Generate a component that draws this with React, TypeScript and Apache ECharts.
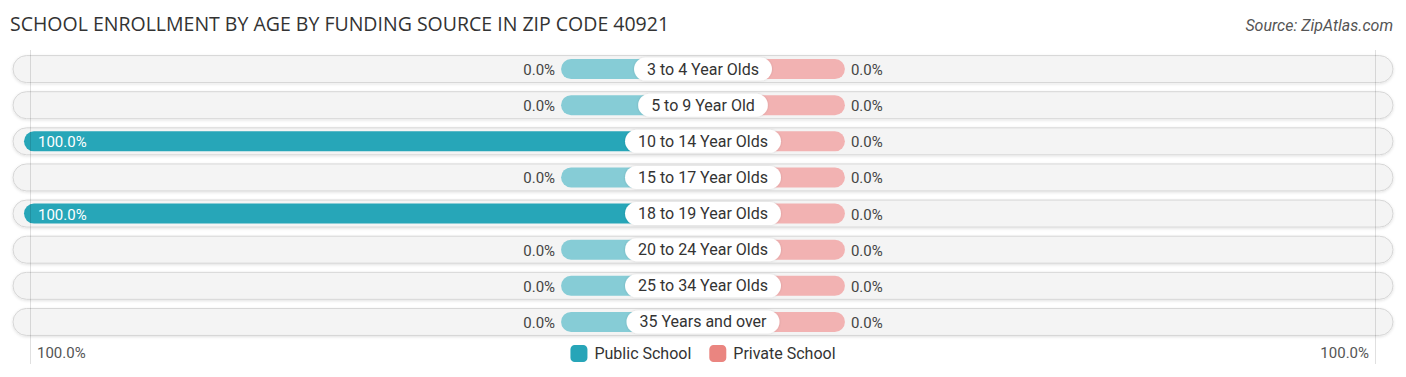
import React, { useEffect, useRef } from "react";
import * as echarts from "echarts";

const categories = [
  "3 to 4 Year Olds",
  "5 to 9 Year Old",
  "10 to 14 Year Olds",
  "15 to 17 Year Olds",
  "18 to 19 Year Olds",
  "20 to 24 Year Olds",
  "25 to 34 Year Olds",
  "35 Years and over",
];
const publicSchool = [0, 0, 100, 0, 100, 0, 0, 0];
const privateSchool = [0, 0, 0, 0, 0, 0, 0, 0];
const axisEndLabels = ["100.0%", "100.0%"];
const seriesNames = ["Public School", "Private School"];

const STUB = 20.9; // minimum visible bar length for zero values (%)
const FONT = "Roboto, 'Noto Sans', sans-serif";

export default function App() {
  const ref = useRef<HTMLDivElement>(null);
  useEffect(() => {
    if (!ref.current) return;
    const chart = echarts.init(ref.current, undefined, { renderer: "svg" });

    const makeBar = (side: number, full: string, light: string, txtGap: number) =>
      (params: any, api: any) => {
        const v = api.value(0) as number;
        const ci = api.value(1) as number;
        const disp = Math.max(v, STUB);
        const p0 = api.coord([0, ci]);
        const p1 = api.coord([side * disp, ci]);
        const h = 20;
        const x = Math.min(p0[0], p1[0]);
        const w = Math.abs(p1[0] - p0[0]);
        const r = side < 0 ? [10, 0, 0, 10] : [0, 10, 10, 0];
        const inside = v > 50;
        const label = v.toFixed(1) + "%";
        let tx: number, align: string;
        if (inside) {
          tx = p1[0] - side * 14;
          align = side < 0 ? "left" : "right";
        } else {
          tx = p1[0] + side * txtGap;
          align = side < 0 ? "right" : "left";
        }
        return {
          type: "group",
          children: [
            {
              type: "rect",
              shape: { x, y: p0[1] - h / 2, width: w, height: h, r },
              style: { fill: v > 0 ? full : light },
            },
            {
              type: "text",
              style: {
                text: label,
                x: tx,
                y: p0[1] + 1,
                align,
                verticalAlign: "middle",
                fill: inside ? "#ffffff" : "#444444",
                font: `15px ${FONT}`,
              },
            },
          ],
        };
      };

    const option: any = {
      animation: false,
      title: [
        {
          text: "SCHOOL ENROLLMENT BY AGE BY FUNDING SOURCE IN ZIP CODE 40921",
          left: 5,
          top: 8,
          textStyle: { fontSize: 19.5, fontWeight: "normal", color: "#333", fontFamily: "'Open Sans', sans-serif" },
        },
        {
          text: "Source: ZipAtlas.com",
          right: 8,
          top: 12,
          textStyle: { fontSize: 16, fontWeight: "normal", fontStyle: "italic", color: "#555", fontFamily: FONT },
        },
      ],
      legend: {
        data: seriesNames,
        left: "center",
        top: 340,
        itemWidth: 17,
        itemHeight: 17,
        itemGap: 18,
        icon: "roundRect",
        textStyle: { fontSize: 16, color: "#333", fontFamily: FONT, padding: [0, 0, 0, 2] },
      },
      grid: { left: 24, right: 24, top: 51, height: 289 },
      xAxis: { type: "value", min: -100, max: 100, show: false },
      yAxis: { type: "category", data: categories, inverse: true, show: false },
      series: [
        {
          type: "custom",
          name: "bg",
          silent: true,
          z: 1,
          data: categories.map((c, i) => [0, i]),
          encode: { x: 0, y: 1 },
          renderItem: (params: any, api: any) => {
            const ci = api.value(1);
            const a = api.coord([-100, ci]);
            const b = api.coord([100, ci]);
            const h = 27;
            return {
              type: "rect",
              shape: { x: a[0] - 11, y: a[1] - h / 2, width: b[0] - a[0] + 22, height: h, r: 13.5 },
              style: {
                fill: "#f4f4f4",
                stroke: "#d6d6d6",
                lineWidth: 1,
                shadowBlur: 3,
                shadowColor: "rgba(0,0,0,0.12)",
                shadowOffsetY: 1,
              },
            };
          },
        },
        {
          type: "custom",
          name: seriesNames[0],
          color: "#27a5b8",
          z: 2,
          data: publicSchool.map((v, i) => [v, i]),
          encode: { x: 0, y: 1 },
          renderItem: makeBar(-1, "#27a6b8", "#86ccd6", 6),
        },
        {
          type: "custom",
          name: seriesNames[1],
          color: "#ea8580",
          z: 2,
          data: privateSchool.map((v, i) => [v, i]),
          encode: { x: 0, y: 1 },
          renderItem: makeBar(1, "#ea8580", "#f2b2b2", 6),
        },
        {
          type: "custom",
          name: "labels",
          silent: true,
          z: 3,
          data: categories.map((c, i) => [0, i]),
          encode: { x: 0, y: 1 },
          renderItem: (params: any, api: any) => {
            const ci = api.value(1);
            const p = api.coord([0, ci]);
            return {
              type: "text",
              style: {
                text: categories[ci],
                x: p[0],
                y: p[1],
                align: "center",
                verticalAlign: "middle",
                font: `16px ${FONT}`,
                fill: "#333",
                backgroundColor: "#ffffff",
                borderRadius: 12,
                padding: [4, 13, 3, 13],
                shadowBlur: 2,
                shadowColor: "rgba(0,0,0,0.15)",
              },
            };
          },
        },
      ],
      graphic: [
        {
          type: "line",
          shape: { x1: 30.5, y1: 50, x2: 30.5, y2: 364 },
          style: { stroke: "rgba(0,0,0,0.12)", lineWidth: 1 },
          z: 10,
          silent: true,
        },
        {
          type: "line",
          shape: { x1: 1375.5, y1: 50, x2: 1375.5, y2: 364 },
          style: { stroke: "rgba(0,0,0,0.12)", lineWidth: 1 },
          z: 10,
          silent: true,
        },
        {
          type: "text",
          left: 37,
          top: 345,
          style: { text: axisEndLabels[0], font: `15px ${FONT}`, fill: "#555" },
        },
        {
          type: "text",
          right: 37,
          top: 345,
          style: { text: axisEndLabels[1], font: `15px ${FONT}`, fill: "#555" },
        },
      ],
    };
    chart.setOption(option);
    return () => chart.dispose();
  }, []);
  return <div ref={ref} style={{ width: 1406, height: 377, position: "absolute", left: 0, top: 0 }} />;
}
